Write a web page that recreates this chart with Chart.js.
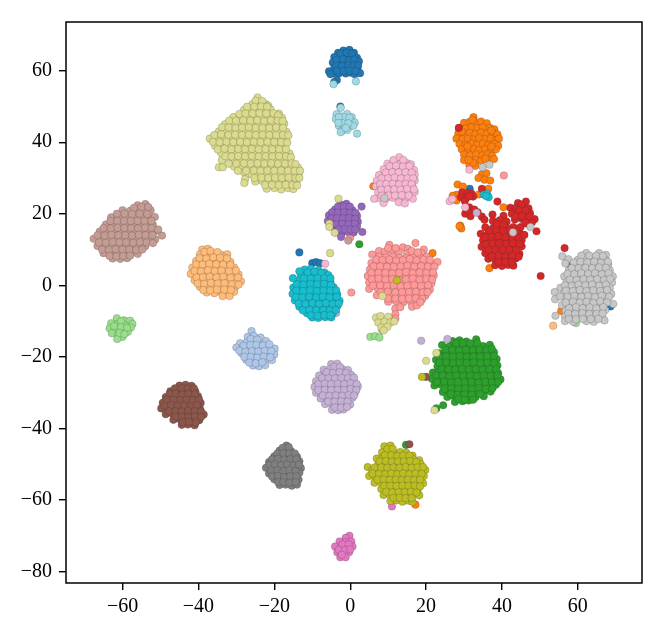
<!DOCTYPE html>
<html>

<head>
    <title>t-SNE clusters</title>
    <script src="https://cdn.jsdelivr.net/npm/chart.js"></script>
    <style>
        body {
            margin: 0;
            background: #fff;
        }

        canvas {
            display: block;
        }
    </style>
</head>

<body>
    <canvas id="chart" width="664" height="631"></canvas>

    <script>
        const xTicks = [-60, -40, -20, 0, 20, 40, 60];
        const yTicks = [-80, -60, -40, -20, 0, 20, 40, 60];

        const blue = [[-3.2,65],[-1.8,65.6],[-0.2,65.8],[1,65],[-4.2,63.8],[-2.6,63.6],[-1,64],[0.4,63.8],[1.8,63.6],[-4.6,62.3],[-3,62],[-1.5,62.4],[0,62.2],[1.5,62.3],[2.3,62.6],[-4.2,60.8],[-2.6,60.5],[-1,60.6],[0.6,60.8],[1.9,60.5],[-5.6,59.8],[-4.4,59.3],[-3,59.2],[-1.2,59.2],[0.2,59.4],[1.2,59],[2.6,59.3],[-5.2,59],
            [-2.5,64.8],[-0.9,65],[0.4,64.7],[-3.6,63],[-1.9,63.2],[-0.3,62.9],[1.1,63.1],[-3.7,61.4],[-2.1,61.3],[-0.5,61.5],[1,61.5],[2.1,61.4],[-3.5,60],[-1.8,59.9],[-0.2,60],[1.4,59.9],
            [-3.5,57.4],[-4.2,56.8],[-2.6,50],[-13.4,9.2],[-10,6.2],[-9,6.5],[-8,6.2],[31.5,27],[68.6,-5.9]];
        const lightBlue = [[-26,-12.8],[-27,-14.4],[-25.4,-14.2],[-23.6,-14.6],[-29,-16.2],[-27.3,-16],[-25.6,-15.8],[-23.9,-16.2],[-22.2,-15.6],[-30,-17.4],[-28.2,-17.8],[-26.5,-17.6],[-24.8,-17.4],[-23.1,-17.8],[-21.4,-17.4],[-19.9,-17.7],[-28.6,-19],[-26.9,-19.3],[-25.2,-19.1],[-23.5,-19.4],[-21.8,-19],[-20,-19.3],[-27.4,-20.8],[-25.7,-20.6],[-24,-21],[-22.3,-20.7],[-20.6,-20.9],[-25.6,-22.4],[-24,-22.6],[-22.4,-22.3],
            [-26.2,-15],[-24.5,-15.2],[-28.1,-16.9],[-26.3,-16.7],[-24.7,-16.6],[-23,-16.8],[-21.3,-16.5],[-29.2,-18.3],[-27.6,-18.6],[-25.9,-18.4],[-24.2,-18.5],[-22.5,-18.3],[-20.8,-18.4],[-27.9,-20],[-26.2,-20],[-24.5,-20.2],[-22.8,-19.9],[-21.1,-20.1],[-26.6,-21.6],[-24.9,-21.8],[-23.2,-21.5]];
        const orange = [[32.5,47],[30,45.4],[31.5,45.7],[33,45.5],[34.5,45.8],[36,45.3],[29,44],[30.5,43.8],[32,44.2],[33.5,43.9],[35,44.1],[36.8,44],[38,43.6],[28.5,42.5],[30,42.2],[31.5,42.6],[33,42.3],[34.5,42.7],[36,42.4],[37.5,42.6],[38.8,42.2],[28,41],[29.6,40.8],[31,41],[32.6,40.7],[34,41.1],[35.6,40.8],[37,41],[38.6,40.6],[39.2,41],[28.8,39.5],[30.4,39.2],[32,39.6],[33.4,39.3],[35,39.6],[36.4,39.2],[38,39.5],[39,39],[29.4,38],[31,37.7],[32.6,38.1],[34,37.8],[35.6,38],[37,37.7],[38.4,38],[30,36.5],[31.6,36.3],[33.2,36.6],[34.8,36.3],[36.2,36.6],[37.4,36.2],[30,35],[33,35],[34.6,34.8],[36.6,35],[31.4,33.6],[33,33.4],[32.4,34.2],
            [31.2,35],[35.6,35.4],[37.9,35.3],[32.2,46.2],[29.4,43],[37.2,43.3],[30.9,38.8],[37.2,38.8],
            [34.7,31],[33.8,30],[35.9,31.3],[35.4,29.5],[36.9,29.3],[28.3,28.2],[29.7,27.6],[28,25.3],[27,25],[28,23.7],[33.9,25.4],[36.4,27],[40.4,21.8],[29,16.7],[29.3,15.9],[28.8,16.5],[36.7,4.8],[21.7,9],[6.1,27.7],[55.6,-7.2],[17.2,-61.3],[11,-46.3]];
        const lightOrange = [[-39,10],[-37.5,10.2],[-39.6,8.6],[-37.8,8.4],[-36,8.8],[-34,8.5],[-32.4,8.7],[-40.6,6.8],[-38.8,6.6],[-37,7],[-35.2,6.7],[-33.4,6.9],[-31.6,6.6],[-41.6,5],[-39.8,4.8],[-38,5.2],[-36.2,4.9],[-34.4,5.1],[-32.6,4.8],[-30.6,5],[-42,3.2],[-40.2,3],[-38.4,3.4],[-36.6,3.1],[-34.8,3.3],[-33,3],[-31,3.2],[-29.4,3],[-41,1.4],[-39.2,1.2],[-37.4,1.6],[-35.6,1.3],[-33.8,1.5],[-32,1.2],[-30.2,1.4],[-28.8,1.1],[-39.6,-0.4],[-37.8,-0.6],[-36,-0.2],[-34.2,-0.5],[-32.4,-0.3],[-30.4,-0.6],[-37.8,-2],[-35.8,-2.2],[-34,-1.9],[-32,-2.1],[-30.6,-1.8],[-33.6,-3],[-31.8,-3],
            [-38.4,9.3],[-36.8,9.6],[-35,9.3],[-33.2,7.8],[-39.7,7.6],[-37.9,7.5],[-36.1,7.8],[-34.3,7.7],[-32.5,7.5],[-40.6,5.8],[-38.9,5.8],[-37.1,6],[-35.3,5.9],[-33.5,5.8],[-31.6,5.7],[-41,4],[-39.3,3.9],[-37.5,4.2],[-35.7,4],[-33.9,4.1],[-31.9,3.9],[-30.1,4.1],[-40.5,2.2],[-38.8,2.3],[-37,2.4],[-35.2,2.2],[-33.4,2.4],[-31.5,2.1],[-29.6,2.2],[-40.2,0.5],[-38.5,0.4],[-36.7,0.7],[-34.9,0.5],[-33.1,0.6],[-31.2,0.3],[-29.4,0.2],[-38.7,-1.3],[-36.9,-1.4],[-35.1,-1.2],[-33.2,-1.2],[-31.4,-1.3],
            [53.5,-11.3]];
        const green = [[27,-15.6],[28.8,-15.4],[30.6,-15.7],[33.2,-15.1],[24.2,-16.7],[26,-17.2],[27.8,-17],[29.6,-17.4],[31.4,-17.1],[33.2,-17.3],[35,-17],[36.8,-16.6],[23.5,-19],[25.3,-18.8],[27.1,-19.2],[28.9,-18.9],[30.7,-19.1],[32.5,-18.8],[34.3,-19.2],[36.1,-18.9],[37.9,-18.7],[22.6,-20.8],[24.4,-20.6],[26.2,-21],[28,-20.7],[29.8,-20.9],[31.6,-20.6],[33.4,-21],[35.2,-20.7],[37,-20.9],[38.6,-20.6],[23,-22.6],[24.8,-22.4],[26.6,-22.8],[28.4,-22.5],[30.2,-22.7],[32,-22.4],[33.8,-22.8],[35.6,-22.5],[37.4,-22.7],[38.8,-22.4],[21.8,-24.4],[23.4,-24.2],[25.2,-24.6],[27,-24.3],[28.8,-24.5],[30.6,-24.2],[32.4,-24.6],[34.2,-24.3],[36,-24.5],[37.8,-24.2],[39,-24.6],[21.6,-26.2],[23.6,-26],[25.4,-26.4],[27.2,-26.1],[29,-26.3],[30.8,-26],[32.6,-26.4],[34.4,-26.1],[36.2,-26.3],[38,-26],[39.6,-26.3],[22.2,-28],[24,-27.8],[25.8,-28.2],[27.6,-27.9],[29.4,-28.1],[31.2,-27.8],[33,-28.2],[34.8,-27.9],[36.6,-28.1],[38.4,-27.8],[24.4,-29.8],[26.2,-29.6],[28,-30],[29.8,-29.7],[31.6,-29.9],[33.4,-29.6],[35.2,-30],[37,-29.7],[25.6,-31.2],[27.4,-31],[29.2,-31.4],[31,-31.1],[33,-31.3],[35.2,-31],[27.6,-32.6],[29.6,-32.4],[31.2,-32.2],
            [27.9,-16.2],[29.7,-16.1],[31.6,-16.2],[33.5,-16.1],[25.1,-18],[26.9,-18.1],[28.7,-18.2],[30.5,-18],[32.3,-18.1],[34.1,-18],[35.9,-18],[37.3,-17.7],[23.5,-19.9],[25.3,-19.8],[27.1,-20],[28.9,-19.8],[30.7,-20],[32.5,-19.9],[34.3,-19.9],[36.1,-19.8],[37.9,-19.8],[23.5,-21.6],[25.3,-21.6],[27.1,-21.8],[28.9,-21.6],[30.7,-21.7],[32.5,-21.6],[34.3,-21.8],[36.1,-21.6],[37.9,-21.7],[24.1,-23.4],[25.9,-23.5],[27.7,-23.6],[29.5,-23.4],[31.3,-23.5],[33.1,-23.4],[34.9,-23.6],[36.7,-23.4],[38.5,-23.5],[22.6,-25.2],[24.4,-25.2],[26.2,-25.4],[28,-25.2],[29.8,-25.3],[31.6,-25.2],[33.4,-25.4],[35.2,-25.2],[37,-25.3],[38.8,-25.2],[22.8,-27],[24.8,-27],[26.6,-27.2],[28.4,-27],[30.2,-27.1],[32,-27],[33.8,-27.2],[35.6,-27],[37.4,-27.1],[39,-27],[24.9,-28.9],[26.7,-28.8],[28.5,-29],[30.3,-28.8],[32.1,-29],[33.9,-28.8],[35.7,-29],[37.5,-28.8],[26.5,-30.4],[28.3,-30.6],[30.1,-30.5],[32,-30.6],[34.2,-30.4],[28.6,-31.8],[30.2,-32],[32.4,-32],
            [22.7,-34.4],[24.5,-33.5],[2.4,11.5],[14.7,-44.6]];
        const lightGreen = [[-61.5,-9.2],[-59.6,-9.8],[-58,-9.9],[-57.4,-10.8],[-63,-10.6],[-61.2,-10.8],[-59.4,-11.2],[-57.8,-11.8],[-63.4,-12],[-61.6,-12.4],[-60,-12.6],[-58.6,-13],[-62.8,-13.4],[-61.2,-14],[-60,-14.4],[-61.4,-15],
            [-60.4,-10],[-62.2,-11.4],[-60.4,-11.7],[-58.8,-11.9],[-60.8,-13.3],[-59.5,-13.6],
            [5.3,-14.4],[6.6,-14.2],[7.7,-14.6],[8.4,-12.5],[59.5,-10.5]];
        const red = [[37.5,19.8],[40.4,19.4],[37.6,18],[39.4,18.2],[41.2,17.8],[35.6,16.2],[37.6,16],[39.4,16.4],[41.2,16.1],[43,16.3],[34.4,14.4],[36.2,14.2],[38,14.6],[39.8,14.3],[41.6,14.5],[43.4,14.2],[44.8,14.5],[35,12.6],[36.8,12.4],[38.6,12.8],[40.4,12.5],[42.2,12.7],[44,12.4],[45.2,12.7],[34.6,10.8],[36.4,10.6],[38.2,11],[40,10.7],[41.8,10.9],[43.6,10.6],[45.2,10.9],[35.6,9],[37.4,8.8],[39.2,9.2],[41,8.9],[42.8,9.1],[44.6,8.8],[36.4,7.4],[38.2,7.2],[40,7.6],[41.8,7.3],[43.6,7.5],[38.2,5.6],[40,5.4],[41.6,5.7],[43,5.5],
            [38.6,17.1],[40.4,17],[36.7,15.2],[38.5,15.3],[40.3,15.2],[42.1,15.3],[35.5,13.5],[37.3,13.5],[39.1,13.7],[40.9,13.4],[42.7,13.5],[44.4,13.5],[35.7,11.5],[37.5,11.7],[39.3,11.7],[41.1,11.6],[42.9,11.7],[44.6,11.6],[36.5,9.9],[38.3,9.9],[40.1,10],[41.9,9.9],[43.7,9.8],[37.3,8.1],[39.1,8.3],[40.9,8.1],[42.7,8.3],[44.4,8],[39.1,6.5],[40.9,6.5],[42.6,6.5],
            [44.2,23],[46.3,23.4],[42.2,21.7],[43.6,21.6],[45.4,21.8],[47,21.5],[42.6,20],[44.4,20.2],[46.2,19.9],[47.4,20.1],[43.4,18.4],[45.2,18.6],[47,18.3],[48.6,18.5],[44.9,16.3],[46.6,17.2],[47.9,17.6],[45.9,14.1],[43.8,15],
            [45.2,22.6],[44.5,21],[46.2,20.9],[43.5,19.3],[45.3,19.4],[47.2,19.2],[46.1,17.6],
            [29.5,26],[31,25.8],[32,25.6],[29.2,24.6],[30.6,24.4],[32.4,24.8],[30.2,23.6],[31.4,21.8],[30.3,20],[32,20.4],[33.6,20.4],[34.7,19.2],[35.4,18.3],[30.6,21.4],[31.7,19.3],[31.4,24.9],[31,20.9],[32.7,21.2],
            [28.6,44],[34.7,27],[38.8,23.4],[49.1,15.1],[56.5,10.4],[50.2,2.6],[57.9,5.8],[67.1,3.1]];
        const salmon = [[10.3,11.3],[13.9,10.6],[15.2,10.2],[17.2,11.8],[19.4,10],[7.6,9.6],[9.2,9.4],[11,9.7],[12.8,9.3],[15,8.9],[18.8,8.9],[5.8,8.6],[7.6,8],[9.4,7.8],[11.2,8],[13,7.7],[14.8,7.6],[16.6,8.2],[18.4,7.7],[20.2,8],[5.6,6.2],[7,6.4],[8.8,6.1],[10.6,6.3],[12.4,6],[14.2,6.2],[16,6.4],[17.8,6.1],[19.6,6.3],[21.4,6],[23,6.5],[5.2,4.4],[6.8,4.6],[8.6,4.3],[10.4,4.5],[12.2,4.2],[14,4.4],[15.8,4.6],[17.6,4.3],[19.4,4.5],[21.2,4.2],[4.6,2.6],[6.4,2.8],[8.2,2.5],[10,2.7],[11.8,2.4],[13.6,2.6],[15.4,2.8],[17.2,2.5],[19,2.7],[20.8,2.4],[22,2.8],[5,0.8],[6.8,1],[8.6,0.7],[10.4,0.9],[12.2,0.6],[14,0.8],[15.8,1],[17.6,0.7],[19.4,0.9],[21.4,0.6],[5,-1],[7.2,-0.8],[9,-1.1],[10.8,-0.9],[12.6,-1.2],[14.4,-1],[16.2,-0.8],[18,-1.1],[19.8,-0.9],[21,-1.2],[7,-2.8],[9,-2.6],[11,-2.9],[12.8,-2.7],[14.6,-3],[16.4,-2.8],[18.2,-2.6],[19.8,-2.9],[10,-4.6],[12,-4.4],[14,-4.7],[16,-4.5],[17.8,-4.3],
            [10,10.4],[12,10.4],[16.2,9.6],[17.8,9.2],[6.9,7.2],[8.5,7],[10.3,7.2],[12.1,6.9],[13.9,7],[15.7,7.3],[17.5,7],[19.3,7.2],[21,7.1],[6.2,5.3],[7.9,5.3],[9.7,5.2],[11.5,5.2],[13.3,5.3],[15.1,5.5],[16.9,5.2],[18.7,5.4],[20.5,5.2],[22.2,5.2],[5.6,3.5],[7.5,3.5],[9.3,3.5],[11.1,3.3],[12.9,3.5],[14.7,3.7],[16.5,3.4],[18.3,3.6],[20.1,3.4],[21.8,3.6],[5.7,1.7],[7.5,1.9],[9.3,1.6],[11.1,1.8],[12.9,1.5],[14.7,1.7],[16.5,1.9],[18.3,1.6],[20.1,1.8],[21.6,1.6],[6,-0.1],[7.9,0],[9.7,-0.2],[11.5,0],[13.3,-0.3],[15.1,-0.1],[16.9,0.1],[18.7,-0.2],[20.5,0],[8.1,-1.9],[9.9,-1.8],[11.9,-2],[13.7,-1.9],[15.5,-1.9],[17.3,-1.8],[19.1,-2],[20.4,-1.9],[10,-3.7],[11.9,-3.7],[13.7,-3.8],[15.5,-3.7],[17.3,-3.6],[19,-3.8],
            [11.9,-6.5],[13.2,-6.1],[11.9,-8.1],[11.9,-9.3],[16.3,-6],[17.6,-5.6],[18.5,-4.7],[0.3,-2],[40.5,30.7],[0,13.4]];
        const purple = [[-2.6,22.6],[-1,22.8],[-4,21.2],[-2.4,21],[-0.8,21.3],[0.6,21],[-5.6,19.6],[-4,19.4],[-2.4,19.7],[-0.8,19.5],[0.8,19.7],[1.8,19.4],[-5.9,18],[-4.4,17.8],[-2.8,18.1],[-1.2,17.9],[0.4,18.1],[2,17.8],[-4.6,16.4],[-3,16.2],[-1.4,16.5],[0.2,16.3],[1.8,16.5],[-3.8,14.8],[-2.2,14.7],[-0.6,15],[0.9,14.8],
            [-3.2,22],[-1.7,22.1],[-0.1,22],[-4.8,20.4],[-3.2,20.3],[-1.6,20.4],[0,20.3],[1.4,20.3],[-4.9,18.7],[-3.5,18.8],[-1.9,18.7],[-0.3,18.8],[1.3,18.6],[-5.2,17.1],[-3.7,17],[-2.1,17.2],[-0.5,17.1],[1.2,17.2],[-3.1,15.6],[-1.5,15.7],[0.1,15.6],[1.3,15.6],
            [3,22],[3.2,14.9],[-2.4,13.5],[7,27.7]];
        const lightPurple = [[-5,-22],[-3.4,-21.9],[-7,-23.6],[-5.4,-23.4],[-3.7,-23.8],[-2,-23.5],[-0.6,-23.7],[-8.2,-25.2],[-6.5,-25],[-4.8,-25.4],[-3.1,-25.1],[-1.4,-25.3],[0.2,-25],[-9,-26.8],[-7.3,-26.6],[-5.6,-27],[-3.9,-26.7],[-2.2,-26.9],[-0.5,-26.6],[1,-26.9],[-9.4,-28.4],[-7.7,-28.2],[-6,-28.6],[-4.3,-28.3],[-2.6,-28.5],[-0.9,-28.2],[0.8,-28.6],[2,-28.3],[-9,-30],[-7.3,-29.8],[-5.6,-30.2],[-3.9,-29.9],[-2.2,-30.1],[-0.5,-29.8],[1.2,-30.1],[-7.8,-31.6],[-6.1,-31.4],[-4.4,-31.8],[-2.7,-31.5],[-1,-31.7],[0.6,-31.4],[-6.6,-33.2],[-4.9,-33],[-3.2,-33.4],[-1.5,-33.1],[0,-33.3],[-4.8,-34.8],[-3.2,-34.9],[-1.8,-34.7],
            [-4.2,-22.8],[-2.7,-22.8],[-6.2,-24.3],[-4.5,-24.5],[-2.8,-24.3],[-1.1,-24.5],[-7.4,-25.9],[-5.7,-26],[-4,-26],[-2.3,-25.9],[-0.6,-25.9],[1,-25.8],[-8.4,-27.6],[-6.7,-27.5],[-5,-27.6],[-3.3,-27.5],[-1.6,-27.6],[0.1,-27.4],[1.7,-27.6],[-8.4,-29.3],[-6.7,-29.2],[-5,-29.3],[-3.3,-29.2],[-1.6,-29.3],[0.1,-29],[1.6,-29.3],[-7.2,-30.8],[-5.5,-30.9],[-3.8,-30.8],[-2.1,-30.9],[-0.4,-30.7],[1,-30.8],[-5.8,-32.5],[-4.1,-32.5],[-2.4,-32.4],[-0.7,-32.5],[-4,-34.1],[-2.4,-34.2],[-0.8,-34],
            [-3.7,-7.7],[18.7,-15.5],[25.6,-15],[33.3,20.3]];
        const brown = [[-45,-28],[-43.4,-27.8],[-41.8,-28.1],[-47.4,-29.6],[-45.8,-29.4],[-44.1,-29.8],[-42.4,-29.5],[-40.8,-29.7],[-48.6,-31.2],[-46.9,-31],[-45.2,-31.4],[-43.5,-31.1],[-41.8,-31.3],[-40.1,-31],[-49.4,-32.8],[-47.7,-32.6],[-46,-33],[-44.3,-32.7],[-42.6,-32.9],[-40.9,-32.6],[-39.4,-32.9],[-49.8,-34.4],[-48.1,-34.2],[-46.4,-34.6],[-44.7,-34.3],[-43,-34.5],[-41.3,-34.2],[-39.6,-34.5],[-48.6,-36],[-46.9,-35.8],[-45.2,-36.2],[-43.5,-35.9],[-41.8,-36.1],[-40.2,-35.8],[-38.6,-36.1],[-46.6,-37.6],[-44.9,-37.4],[-43.2,-37.8],[-41.6,-37.5],[-39.8,-37.7],[-44.4,-39],[-42.8,-38.9],[-41,-39.1],
            [-46.2,-28.8],[-44.4,-28.8],[-42.8,-28.8],[-41.2,-28.8],[-47.6,-30.4],[-46,-30.3],[-44.3,-30.5],[-42.6,-30.3],[-40.9,-30.4],[-48.3,-32],[-46.6,-32],[-44.9,-32.1],[-43.2,-32],[-41.5,-32.1],[-39.8,-32],[-48.9,-33.6],[-47.2,-33.5],[-45.5,-33.7],[-43.8,-33.5],[-42.1,-33.7],[-40.4,-33.5],[-47.8,-35.2],[-46.1,-35.2],[-44.4,-35.3],[-42.7,-35.1],[-41,-35.2],[-39.3,-35.2],[-46,-36.7],[-44.3,-36.7],[-42.7,-36.8],[-40.9,-36.7],[-39.3,-36.8],[-44.1,-38.2],[-42.5,-38.2],[-40.7,-38.3],
            [20,-25.6],[15.6,-44.4]];
        const lightBrown = [[-56,22.4],[-54,22.7],[-60,21],[-58,20.8],[-56,21.1],[-54.4,20.9],[-52.6,21],[-63,19],[-61,18.8],[-59,19.2],[-57,18.9],[-55,19.1],[-53,18.8],[-51.5,19.1],[-64.4,17],[-62.6,16.8],[-60.8,17.2],[-59,16.9],[-57.2,17.1],[-55.4,16.8],[-53.6,17.2],[-52,16.9],[-66,15],[-64,14.8],[-62.2,15.2],[-60.4,14.9],[-58.6,15.1],[-56.8,14.8],[-55,15.2],[-53.2,14.9],[-51.4,15.1],[-67.6,13],[-65.6,12.8],[-63.8,13.2],[-62,12.9],[-60.2,13.1],[-58.4,12.8],[-56.6,13.2],[-54.8,12.9],[-53,13.1],[-51.4,12.8],[-49.6,13.9],[-66.6,11],[-64.8,10.8],[-63,11.2],[-61.2,10.9],[-59.4,11.1],[-57.6,10.8],[-55.8,11.2],[-54,10.9],[-65,9],[-63.2,8.8],[-61.4,9.2],[-59.6,8.9],[-57.8,9.1],[-56,8.8],[-62.6,7.5],[-60.6,7.4],[-58.8,7.6],
            [-57,21.7],[-55,21.9],[-53.2,21.9],[-61.5,20],[-59.5,20],[-57.5,19.9],[-55.5,20],[-53.5,19.9],[-63.2,18],[-61.4,18],[-59.6,18],[-57.8,18],[-56,18],[-54.2,18],[-52.4,18],[-65,16],[-63.1,15.9],[-61.3,16.1],[-59.5,16],[-57.7,16],[-55.9,15.9],[-54.1,16.1],[-52.3,16],[-50.6,15.6],[-66.6,14],[-64.7,13.9],[-62.9,14.1],[-61.1,14],[-59.3,14],[-57.5,13.9],[-55.7,14.1],[-53.9,14],[-52.1,14],[-66.2,12],[-64.4,11.9],[-62.6,12.1],[-60.8,12],[-59,12],[-57.2,11.9],[-55.4,12.1],[-53.6,12],[-52,11.8],[-65.4,10],[-63.6,9.9],[-61.8,10.1],[-60,10],[-58.2,10],[-56.4,9.9],[-54.8,10],[-63.4,8.2],[-61.6,8.1],[-59.8,8.2],[-58,8.3],
            [-0.5,12.5],[-5.5,1.9]];
        const magenta = [[-0.2,-70],[-1.2,-70.6],[-2.8,-71.6],[-1.2,-71.8],[0.3,-71.6],[-4,-73],[-2.4,-73.2],[-0.8,-73.2],[0.6,-73],[-3.4,-74.6],[-1.8,-74.8],[-0.3,-74.6],[-2.6,-76],[-1.2,-76],
            [-2,-72.4],[-0.4,-72.4],[-3,-73.9],[-1.4,-74],[0,-73.8],[-2.2,-75.3],[11,-61.8]];
        const lightPink = [[12.9,35.8],[9.8,34],[11.5,34.2],[13.2,33.9],[15,34.1],[16,33.8],[8.8,32.4],[10.4,32.2],[12,32.5],[13.7,32.3],[15.4,32.5],[16.8,32.2],[7.6,30.8],[9.2,30.6],[10.9,30.9],[12.6,30.7],[14.3,30.9],[16,30.6],[17,30.9],[7,29.2],[8.8,29],[10.4,29.3],[12.1,29.1],[13.8,29.3],[15.5,29],[17,29.3],[6.8,27.6],[8,27.4],[9.6,27.7],[11.3,27.5],[13,27.7],[14.7,27.4],[16.4,27.7],[7.4,26],[9,25.8],[10.7,26.1],[12.4,25.9],[14.1,26.1],[15.8,25.8],[17,26.1],[7.6,24.4],[9.4,24.2],[11.2,24.5],[13,24.3],[14.8,24.5],[16.5,24.2],[6.3,24.2],[8.8,23],[12.8,23.2],[14.4,22.9],
            [11.4,35],[14,35],[10.4,33.3],[12.1,33.4],[13.9,33.2],[15.6,33.3],[9.4,31.5],[11.1,31.6],[12.8,31.6],[14.6,31.6],[16.2,31.5],[8.3,29.9],[10,29.9],[11.7,30.1],[13.4,29.9],[15.1,29.9],[16.6,29.9],[7.9,28.3],[9.5,28.3],[11.2,28.4],[12.9,28.2],[14.6,28.4],[16.2,28.3],[8.2,26.7],[9.9,26.8],[11.6,26.8],[13.3,26.7],[15,26.9],[16.8,26.8],[8.4,25.1],[10.1,25.1],[11.8,25.1],[13.6,25.2],[15.4,25.1],
            [31.4,32.3],[26.2,23.5],[26.9,24.1],[30.3,21.8],[-6.6,6]];
        const gray = [[-16.8,-44.8],[-18.6,-46.2],[-17,-46],[-15.6,-46.3],[-20,-47.8],[-18.4,-47.6],[-16.8,-48],[-15.2,-47.7],[-14,-47.9],[-21.4,-49.4],[-19.8,-49.2],[-18.2,-49.6],[-16.6,-49.3],[-15,-49.5],[-13.4,-49.2],[-22.2,-51],[-20.6,-50.8],[-19,-51.2],[-17.4,-50.9],[-15.8,-51.1],[-14.2,-50.8],[-13,-51.1],[-21.4,-52.6],[-19.8,-52.4],[-18.2,-52.8],[-16.6,-52.5],[-15,-52.7],[-13.4,-52.4],[-20,-54.2],[-18.4,-54],[-16.8,-54.4],[-15.2,-54.1],[-13.6,-54.3],[-18.6,-55.8],[-17,-55.7],[-15.4,-56],[-14,-55.7],
            [-17.8,-45.4],[-16.2,-45.2],[-19.2,-47],[-17.6,-46.9],[-16,-47],[-14.6,-47],[-20.6,-48.6],[-19,-48.5],[-17.4,-48.7],[-15.8,-48.6],[-14.2,-48.6],[-21.3,-50.2],[-19.8,-50.1],[-18.2,-50.3],[-16.6,-50.1],[-15,-50.3],[-13.5,-50.1],[-20.8,-51.8],[-19.2,-51.7],[-17.6,-51.9],[-16,-51.7],[-14.4,-51.9],[-20.6,-53.4],[-19,-53.3],[-17.4,-53.6],[-15.8,-53.4],[-14.2,-53.4],[-19,-55],[-17.6,-55],[-16,-55.2],[-14.4,-55]];
        const lightGray = [[55.9,8.1],[62.2,9],[65.6,9],[67.4,8.5],[57.5,7.3],[60,7.1],[61.8,7.5],[63.6,7.2],[65.4,7.4],[67.2,7.1],[56.7,6.1],[59,5.5],[60.8,5.9],[62.6,5.6],[64.4,5.8],[66.2,5.5],[68,5.8],[57.6,4.1],[59.4,3.9],[61.2,4.3],[63,4],[64.8,4.2],[66.6,3.9],[68.4,4.2],[56.4,2.5],[58.2,2.3],[60,2.7],[61.8,2.4],[63.6,2.6],[65.4,2.3],[67.2,2.7],[69.2,2.5],[57,0.9],[58.8,0.7],[60.6,1.1],[62.4,0.8],[64.2,1],[66,0.7],[67.8,1.1],[69,0.8],[55.4,-0.7],[57.6,-0.9],[59.4,-0.5],[61.2,-0.8],[63,-0.6],[64.8,-0.9],[66.6,-0.5],[68.4,-0.8],[53.9,-1.9],[56.2,-2.3],[58,-2.5],[59.8,-2.1],[61.6,-2.4],[63.4,-2.2],[65.2,-2.5],[67,-2.1],[68.8,-2.4],[54,-3.9],[56.8,-4.1],[58.6,-3.7],[60.4,-4],[62.2,-3.8],[64,-4.1],[65.8,-3.7],[67.6,-4],[55.8,-5.5],[57.6,-5.7],[59.4,-5.3],[61.2,-5.6],[63,-5.4],[64.8,-5.7],[66.6,-5.3],[69.3,-5.2],[56.8,-7.1],[58.6,-7.3],[60.4,-6.9],[62.2,-7.2],[64,-7],[65.8,-7.3],[67.2,-6.9],[54.1,-8.5],[56.6,-8.7],[58.4,-8.9],[60.2,-8.5],[62.6,-8.8],[64.6,-8.6],[66.4,-8.9],[56.6,-10],[58.8,-10.2],[62.3,-10],[64.2,-10.2],[67,-9.8],
            [60.9,8.3],[63,8.3],[64.8,8.3],[66.6,8.2],[58.9,6.4],[60.7,6.6],[62.5,6.4],[64.3,6.6],[66.1,6.3],[67.9,6.6],[58.4,4.8],[60.2,4.8],[62,4.9],[63.8,4.8],[65.6,5],[67.4,4.9],[57.3,3.2],[59.1,3.1],[60.9,3.4],[62.7,3.2],[64.5,3.4],[66.3,3.1],[68.1,3.4],[57.9,1.6],[59.7,1.5],[61.5,1.7],[63.3,1.6],[65.1,1.7],[66.9,1.5],[68.5,1.8],[56.6,0],[58.4,-0.1],[60.2,0.2],[62,0],[63.8,0.2],[65.6,-0.1],[67.4,0.2],[56.9,-1.5],[58.7,-1.6],[60.5,-1.3],[62.3,-1.6],[64.1,-1.4],[65.9,-1.6],[67.7,-1.3],[55.3,-3.1],[57.3,-3.2],[59.1,-3],[60.9,-3.2],[62.7,-3],[64.5,-3.3],[66.3,-2.9],[68.2,-3.2],[56.8,-4.8],[58.7,-4.6],[60.5,-4.8],[62.3,-4.6],[64.1,-4.9],[65.9,-4.5],[67.7,-4.8],[57.7,-6.4],[59.5,-6.1],[61.3,-6.4],[63.1,-6.2],[64.9,-6.5],[66.7,-6.1],[57.5,-7.9],[59.3,-8],[61.2,-7.8],[63,-8],[64.9,-8],[66.5,-7.9],[57.6,-9.4],[59.5,-9.5],[61.3,-9.4],[63.4,-9.4],[65.4,-9.4],
            [34.9,33],[36.7,33.7],[42.9,14.8],[47.5,16.3],[9,24.4]];
        const olive = [[9,-45],[10.6,-44.8],[8.4,-46.7],[10,-46.5],[11.6,-46.9],[13.2,-46.6],[14.8,-46.8],[16.4,-47.6],[7,-48.4],[8.6,-48.2],[10.2,-48.6],[11.8,-48.3],[13.4,-48.5],[15,-48.2],[16.6,-48.6],[18.2,-48.9],[4.6,-50.8],[7.4,-50.1],[9,-49.9],[10.6,-50.3],[12.2,-50],[13.8,-50.2],[15.4,-49.9],[17,-50.3],[18.6,-50],[5.8,-51.8],[7.4,-51.7],[9,-52],[10.6,-51.7],[12.2,-51.9],[13.8,-51.6],[15.4,-52],[17,-51.7],[18.6,-51.9],[19.8,-51.6],[5,-53.3],[6.6,-53.5],[8.2,-53.7],[9.8,-53.4],[11.4,-53.6],[13,-53.3],[14.6,-53.7],[16.2,-53.4],[17.8,-53.6],[19.4,-53.3],[6.4,-55.2],[8,-55],[9.6,-55.4],[11.2,-55.1],[12.8,-55.3],[14.4,-55],[16,-55.4],[17.6,-55.1],[19.2,-55.3],[8.2,-56.9],[9.8,-56.7],[11.4,-57.1],[13,-56.8],[14.6,-57],[16.2,-56.7],[17.8,-57.1],[8.8,-58.6],[10.4,-58.4],[12,-58.8],[13.6,-58.5],[15.2,-58.7],[16.8,-58.4],[18.2,-58.7],[10.6,-60.3],[12.2,-60.1],[13.8,-60.5],[15.4,-60.2],[16.4,-60.5],
            [9.8,-45.8],[11.2,-45.7],[9.2,-47.5],[10.8,-47.5],[12.4,-47.7],[14,-47.6],[15.6,-47.6],[7.8,-49.2],[9.4,-49.1],[11,-49.3],[12.6,-49.2],[14.2,-49.2],[15.8,-49.1],[17.4,-49.4],[6.4,-50.9],[8.2,-50.9],[9.8,-51],[11.4,-50.9],[13,-51],[14.6,-50.8],[16.2,-51],[17.8,-50.9],[19.2,-50.8],[5.9,-52.6],[7.6,-52.7],[9.2,-52.8],[10.8,-52.6],[12.4,-52.8],[14,-52.6],[15.6,-52.8],[17.2,-52.6],[18.8,-52.7],[7.2,-54.3],[8.8,-54.3],[10.4,-54.4],[12,-54.3],[13.6,-54.4],[15.2,-54.3],[16.8,-54.4],[18.4,-54.3],[9,-56],[10.6,-56],[12.2,-56.1],[13.8,-56],[15.4,-56],[17,-56],[18.4,-56.2],[9.5,-57.7],[11.1,-57.9],[12.8,-57.8],[14.4,-57.8],[16,-57.7],[17.5,-57.9],[11.4,-59.4],[13,-59.4],[14.6,-59.5],[16.2,-59.5],
            [12.3,1.4],[18.9,-25.6]];
        const lightOlive = [[-24.4,52.5],[-25.8,50.6],[-24,50.8],[-22.2,50.6],[-21.6,50.2],[-28,49],[-26.4,48.8],[-24.6,49.3],[-22.8,49],[-21,49.2],[-18.8,48],[-30.8,47],[-29,46.7],[-27,47.2],[-25.2,46.9],[-23.4,47.3],[-21.6,47],[-19.8,47.2],[-18,46.8],[-33,45],[-31.2,45.2],[-29.4,44.8],[-27.6,45.3],[-25.8,44.9],[-24,45.2],[-22.2,44.8],[-20.4,45.3],[-18.6,44.9],[-17.4,45.2],[-34.6,43],[-33,43.3],[-31,42.9],[-29.2,43.2],[-27.4,42.8],[-25.6,43.3],[-23.8,42.9],[-22,43.2],[-20.2,42.8],[-18.4,43.2],[-16.8,42.9],[-37,41],[-35,41.2],[-33.2,40.8],[-31.4,41.3],[-29.6,40.9],[-27.8,41.2],[-26,40.8],[-24.2,41.3],[-22.4,40.9],[-20.6,41.2],[-18.8,40.8],[-17,41.1],[-35.6,39],[-33.8,39.3],[-32,38.9],[-30.2,39.2],[-28.4,38.8],[-26.6,39.3],[-24.8,38.9],[-23,39.2],[-21.2,38.8],[-19.4,39.2],[-17.6,38.9],[-34,37],[-32.2,37.2],[-30.4,36.8],[-28.6,37.3],[-26.8,36.9],[-25,37.2],[-23.2,36.8],[-21.4,37.3],[-19.6,36.9],[-17.8,37.2],[-16,36.8],[-33.8,35],[-31,35.2],[-29,34.8],[-27.2,35.3],[-25.4,34.9],[-23.6,35.2],[-21.8,34.8],[-20,35.3],[-18.2,34.9],[-16.4,35.1],[-34.6,33],[-33.6,33],[-30.6,33.2],[-28.8,32.8],[-26.4,33.3],[-24.6,32.9],[-22.8,33.2],[-21,32.8],[-19.2,33.3],[-17.4,32.9],[-15.6,33.2],[-13.8,32.9],[-28,31.6],[-26,31],[-24.2,31.2],[-22.4,30.8],[-20.6,31.3],[-18.8,30.9],[-17,31.2],[-15.2,30.8],[-13.6,31.1],[-27.7,29.7],[-27.9,28.6],[-25,29],[-23.2,29.2],[-21.4,28.8],[-19.6,29.3],[-17.8,28.9],[-16,29.2],[-14.2,28.8],[-22,27],[-20,27.2],[-18.2,26.8],[-16.4,27.2],[-15,26.9],
            [-24.9,51.6],[-23.2,51.5],[-27.2,49.9],[-25.3,49.9],[-23.5,50],[-21.9,49.9],[-29.2,47.9],[-27.6,48],[-25.7,48],[-23.9,48.1],[-22.1,48],[-20.2,48.1],[-19,47.5],[-31.9,46],[-30.1,46],[-28.2,46.1],[-26.3,46],[-24.5,46.1],[-22.7,45.9],[-20.9,46.1],[-19.1,46],[-17.8,45.9],[-33.8,44.2],[-32,44.1],[-30.2,44],[-28.5,44.1],[-26.7,44.1],[-24.9,44],[-23.1,44],[-21.3,44],[-19.5,44.1],[-17.7,44],[-35.8,42],[-34,42.2],[-32.1,42],[-30.3,42.1],[-28.5,42],[-26.7,42.1],[-24.9,42],[-23.1,42.1],[-21.3,42],[-19.5,42],[-17.7,42],[-16.3,41.9],[-36.2,40.1],[-34.4,40],[-32.6,40.1],[-30.8,40],[-29,40.1],[-27.2,40],[-25.4,40.1],[-23.6,40],[-21.8,40.1],[-20,40],[-18.2,40],[-16.6,39.9],[-34.9,38],[-33.1,38.2],[-31.3,38],[-29.5,38.1],[-27.7,38],[-25.9,38.1],[-24.1,38],[-22.3,38.1],[-20.5,38],[-18.7,38],[-16.9,38],[-32.9,36.1],[-31.3,36],[-29.5,36.1],[-27.7,36],[-25.9,36.1],[-24.1,36],[-22.3,36.1],[-20.5,36],[-18.7,36.1],[-16.9,36],[-15.6,35.8],[-32,34],[-30,34],[-28,34.1],[-26.2,34],[-24.4,34.1],[-22.6,34],[-20.8,34.1],[-19,34],[-17.2,34],[-15.4,34.1],[-14.4,33.9],[-29.6,32],[-27.4,32],[-25.4,32.1],[-23.6,32],[-21.8,32.1],[-20,32],[-18.2,32.1],[-16.4,32],[-14.6,32],[-13.2,32],[-25.2,30],[-23.4,30.1],[-21.6,30],[-19.8,30.1],[-18,30],[-16.2,30.1],[-14.4,30],[-13.4,30],[-22.4,28],[-20.6,28.1],[-18.8,28],[-17,28.1],[-15.2,28],[-14,27.9],
            [-3.1,24.2],[-5.3,9],[-5.5,17.2],[-5.5,16.3],[-4.1,14.7],[6.8,-9],[8,-8.6],[10,-8.8],[7.4,-10.4],[9,-10.2],[10.6,-10.4],[11.6,-10.1],[8.2,-11.8],[9.8,-11.6],[8.8,-12.6],[8.5,-3],[22.7,-18.9],[20,-21.1],[22.2,-34.9]];
        const cyan = [[-12,4.4],[-10.4,4.6],[-8.4,4.3],[-6.8,3.6],[-13,2.8],[-11.2,2.6],[-9.4,3],[-7.6,2.7],[-5.8,2.9],[-13.8,1.2],[-12,1],[-10.2,1.4],[-8.4,1.1],[-6.6,1.3],[-5.2,1],[-15,-0.6],[-13.2,-0.8],[-11.4,-0.4],[-9.6,-0.7],[-7.8,-0.5],[-6,-0.8],[-4.4,-0.5],[-15.2,-2.4],[-13.6,-2.6],[-11.8,-2.2],[-10,-2.5],[-8.2,-2.3],[-6.4,-2.6],[-4.6,-2.2],[-3.4,-2.5],[-14.6,-4.2],[-12.8,-4.4],[-11,-4],[-9.2,-4.3],[-7.4,-4.1],[-5.6,-4.4],[-3.8,-4],[-2.8,-4.3],[-13.4,-6],[-11.6,-6.2],[-9.8,-5.8],[-8,-6.1],[-6.2,-5.9],[-4.4,-6.2],[-3.4,-5.8],[-11.4,-7.8],[-9.6,-7.6],[-7.8,-8],[-6,-7.7],[-4.6,-7.9],[-10,-9],[-8.4,-9.1],[-6.6,-8.9],[-5,-9],
            [-11.2,3.6],[-9.4,3.8],[-7.6,3.5],[-12.2,1.9],[-10.4,1.9],[-8.6,2],[-6.8,2],[-5.2,2],[-14.1,0.3],[-12.3,0.2],[-10.5,0.4],[-8.7,0.3],[-6.9,0.4],[-5.1,0.1],[-14.2,-1.5],[-12.4,-1.6],[-10.6,-1.4],[-8.8,-1.6],[-7,-1.5],[-5.2,-1.5],[-3.7,-1.4],[-14.3,-3.3],[-12.6,-3.4],[-10.8,-3.2],[-9,-3.4],[-7.2,-3.2],[-5.4,-3.4],[-3.6,-3.2],[-13.6,-5.1],[-11.8,-5.2],[-10,-5],[-8.2,-5.2],[-6.4,-5],[-4.6,-5.2],[-3,-5.1],[-12.5,-7],[-10.7,-6.9],[-8.9,-7],[-7.1,-6.9],[-5.3,-7],[-3.8,-6.9],[-10.4,-8.4],[-8.6,-8.5],[-6.8,-8.3],[-5.2,-8.4],
            [-15.1,2],[-13.4,3.9],[35.2,25.4],[36.1,25.6],[36.5,24.6],[35.8,25]];
        const lightCyan = [[-3.6,47.8],[-2.2,47.2],[-0.8,47.9],[0.4,47],[-3.8,46.5],[-2.6,45.8],[-1.2,46.2],[0.2,45.8],[1.2,45.5],[-3,44.6],[-1.6,44.5],[-0.2,44.3],[0.8,44.6],[-2.2,43.2],[-0.8,43.4],[-2.5,42.8],
            [-1.6,47],[-0.2,46.8],[-3,47],[-1.9,45.3],[-0.5,45.3],[-3.1,45.4],[-1.2,44],
            [1.8,42.4],[-2.5,49.6],[-4.4,56.2],[1.5,57]];

        // same order as the tab20 palette, later classes sit on top
        const seriesData = [blue, lightBlue, orange, lightOrange, green, lightGreen, red, salmon, purple, lightPurple,
            brown, lightBrown, magenta, lightPink, gray, lightGray, olive, lightOlive, cyan, lightCyan];
        const seriesColors = ['#1f77b4', '#aec7e8', '#ff7f0e', '#ffbb78', '#2ca02c', '#98df8a', '#d62728', '#ff9896', '#9467bd', '#c5b0d5',
            '#8c564b', '#c49c94', '#e377c2', '#f7b6d2', '#7f7f7f', '#c7c7c7', '#bcbd22', '#dbdb8d', '#17becf', '#9edae5'];

        // matplotlib style box round the plot
        const boxPlugin = {
            id: 'box',
            afterDatasetsDraw(chart) {
                const a = chart.chartArea;
                const ctx = chart.ctx;
                ctx.save();
                ctx.strokeStyle = '#000';
                ctx.lineWidth = 1.5;
                ctx.strokeRect(a.left, a.top, a.right - a.left, a.bottom - a.top);
                ctx.restore();
            }
        };

        const tickFont = { family: '"Liberation Serif"', size: 20 };

        function tickLabel(v) {
            return v < 0 ? '\u2212' + Math.abs(v) : String(v);
        }

        new Chart(document.getElementById('chart').getContext('2d'), {
            type: 'scatter',
            data: {
                datasets: seriesData.map((pts, i) => ({
                    data: pts.map(p => ({ x: p[0], y: p[1] })),
                    backgroundColor: seriesColors[i],
                    borderColor: 'rgba(40,40,40,0.5)',
                    borderWidth: 0.4,
                    pointRadius: 3.8,
                    order: seriesData.length - i
                }))
            },
            options: {
                responsive: false,
                animation: false,
                layout: { padding: { top: 22, right: 22 } },
                plugins: { legend: { display: false }, tooltip: { enabled: false } },
                scales: {
                    x: {
                        min: -74.9,
                        max: 76.9,
                        afterBuildTicks: s => { s.ticks = xTicks.map(v => ({ value: v })); },
                        afterFit: s => { s.height = 48; },
                        grid: { drawOnChartArea: false, color: '#000', lineWidth: 1.4, tickLength: 7 },
                        border: { display: false },
                        ticks: { color: '#000', font: tickFont, padding: 5, maxRotation: 0, autoSkip: false, callback: tickLabel }
                    },
                    y: {
                        min: -83.2,
                        max: 73.6,
                        afterBuildTicks: s => { s.ticks = yTicks.map(v => ({ value: v })); },
                        afterFit: s => { s.width = 66; },
                        grid: { drawOnChartArea: false, color: '#000', lineWidth: 1.4, tickLength: 7 },
                        border: { display: false },
                        ticks: { color: '#000', font: tickFont, padding: 7, autoSkip: false, callback: tickLabel }
                    }
                }
            },
            plugins: [boxPlugin]
        });
    </script>
</body>

</html>
